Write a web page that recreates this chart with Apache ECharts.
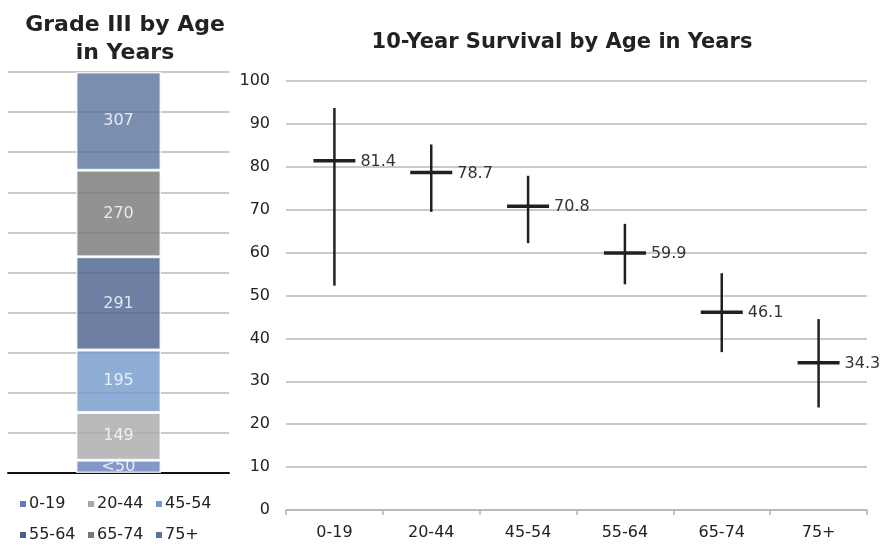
<!DOCTYPE html>
<html>
<head>
<meta charset="utf-8">
<script src="https://cdn.jsdelivr.net/npm/echarts@6/dist/echarts.min.js"></script>
<style>
html,body{margin:0;padding:0;background:#fff;}
#chart{width:887px;height:548px;}
</style>
</head>
<body>
<div id="chart"></div>
<script>
// ---- Left chart: Grade III by age (stacked counts) ----
var gradeGroups = ['0-19', '20-44', '45-54', '55-64', '65-74', '75+'];
var gradeCounts = [40, 149, 195, 291, 270, 307];
var gradeLabels = ['<50', '149', '195', '291', '270', '307'];
var gradeColors = ['#657dbc', '#a8a9a8', '#729acc', '#485f8c', '#777777', '#59739c'];

// ---- Right chart: 10-year survival with ranges ----
var survCategories = ['0-19', '20-44', '45-54', '55-64', '65-74', '75+'];
var survMean = [81.4, 78.7, 70.8, 59.9, 46.1, 34.3];
var survLow = [52.3, 69.5, 62.2, 52.6, 36.8, 23.9];
var survHigh = [93.7, 85.2, 77.9, 66.7, 55.2, 44.5];
var yTicks = { min: 0, max: 100, interval: 10 };

var FONT = 'DejaVu Sans';
var total = gradeCounts.reduce(function (a, b) { return a + b; }, 0);

var chart = echarts.init(document.getElementById('chart'), null, { renderer: 'canvas' });

var barSeries = gradeGroups.map(function (g, i) {
  return {
    name: g,
    type: 'bar',
    stack: 'grade',
    xAxisIndex: 0,
    yAxisIndex: 0,
    barWidth: 85,
    data: [gradeCounts[i] / total * 100],
    itemStyle: { color: gradeColors[i], opacity: 0.8, borderColor: '#ffffff', borderWidth: 1.5 },
    label: {
      show: true,
      position: 'inside',
      color: '#ffffff',
      fontFamily: FONT,
      fontSize: 16,
      formatter: function () { return gradeLabels[i]; }
    },
    emphasis: { disabled: true },
    animation: false
  };
});

var legends = gradeGroups.map(function (g, i) {
  return {
    data: [g],
    left: 18 + (i % 3) * 68,
    top: i < 3 ? 495 : 526,
    itemWidth: 8,
    itemHeight: 8,
    icon: 'rect',
    itemGap: 0,
    padding: 0,
    selectedMode: false,
    itemStyle: { opacity: 1 },
    textStyle: { fontFamily: FONT, fontSize: 16, color: '#222', lineHeight: 18, padding: [0, 0, 0, -3] }
  };
});

var survData = survCategories.map(function (c, i) {
  return [i, survLow[i], survMean[i], survHigh[i]];
});

function renderItem(params, api) {
  var x = api.value(0);
  var lo = api.value(1), mean = api.value(2), hi = api.value(3);
  var pLo = api.coord([x, lo]);
  var pHi = api.coord([x, hi]);
  var pM = api.coord([x, mean]);
  var half = 21;
  return {
    type: 'group',
    children: [
      { type: 'line', shape: { x1: pLo[0], y1: pLo[1], x2: pHi[0], y2: pHi[1] },
        style: { stroke: '#231f20', lineWidth: 2.5 } },
      { type: 'line', shape: { x1: pM[0] - half, y1: pM[1], x2: pM[0] + half, y2: pM[1] },
        style: { stroke: '#231f20', lineWidth: 3.5 } },
      { type: 'text', x: pM[0] + 26, y: pM[1] + 1,
        style: { text: mean.toFixed(1), fill: '#333', font: '16px "' + FONT + '"',
                 verticalAlign: 'middle', align: 'left' } }
    ]
  };
}

var option = {
  backgroundColor: '#ffffff',
  animation: false,
  title: [
    {
      text: 'Grade III by Age\nin Years',
      left: 120,
      top: 6,
      textAlign: 'center',
      textStyle: { fontFamily: FONT, fontSize: 22, fontWeight: 'bold', color: '#222', lineHeight: 28 }
    },
    {
      text: '10-Year Survival by Age in Years',
      left: 557,
      top: 24,
      textAlign: 'center',
      textStyle: { fontFamily: FONT, fontSize: 21, fontWeight: 'bold', color: '#222', lineHeight: 28 }
    }
  ],
  legend: legends,
  grid: [
    { left: 8, top: 72, width: 221, height: 401, containLabel: false },
    { left: 286, top: 81, width: 581, height: 429, containLabel: false }
  ],
  xAxis: [
    {
      type: 'category',
      gridIndex: 0,
      data: [''],
      axisLine: { show: true, lineStyle: { color: '#111', width: 2 } },
      axisTick: { show: false },
      axisLabel: { show: false }
    },
    {
      type: 'category',
      gridIndex: 1,
      data: survCategories,
      axisLine: { show: true, lineStyle: { color: '#b4b4b4', width: 1.5 } },
      axisTick: { show: true, length: 5, lineStyle: { color: '#b4b4b4', width: 1.5 } },
      axisLabel: { fontFamily: FONT, fontSize: 16, color: '#222', margin: 15 }
    }
  ],
  yAxis: [
    {
      type: 'value',
      gridIndex: 0,
      min: 0, max: 100, interval: 10,
      axisLine: { show: false },
      axisTick: { show: false },
      axisLabel: { show: false },
      splitLine: { show: true, lineStyle: { color: '#b8b8b8', width: 1.5 } }
    },
    {
      type: 'value',
      gridIndex: 1,
      min: yTicks.min, max: yTicks.max, interval: yTicks.interval,
      axisLine: { show: false },
      axisTick: { show: false },
      axisLabel: { fontFamily: FONT, fontSize: 16, color: '#222', margin: 16 },
      splitLine: { show: true, lineStyle: { color: '#b8b8b8', width: 1.5 } }
    }
  ],
  series: barSeries.concat([
    {
      name: 'survival',
      type: 'custom',
      xAxisIndex: 1,
      yAxisIndex: 1,
      renderItem: renderItem,
      data: survData,
      encode: { x: 0, y: [1, 2, 3] },
      animation: false
    }
  ])
};

chart.setOption(option);
</script>
</body>
</html>
